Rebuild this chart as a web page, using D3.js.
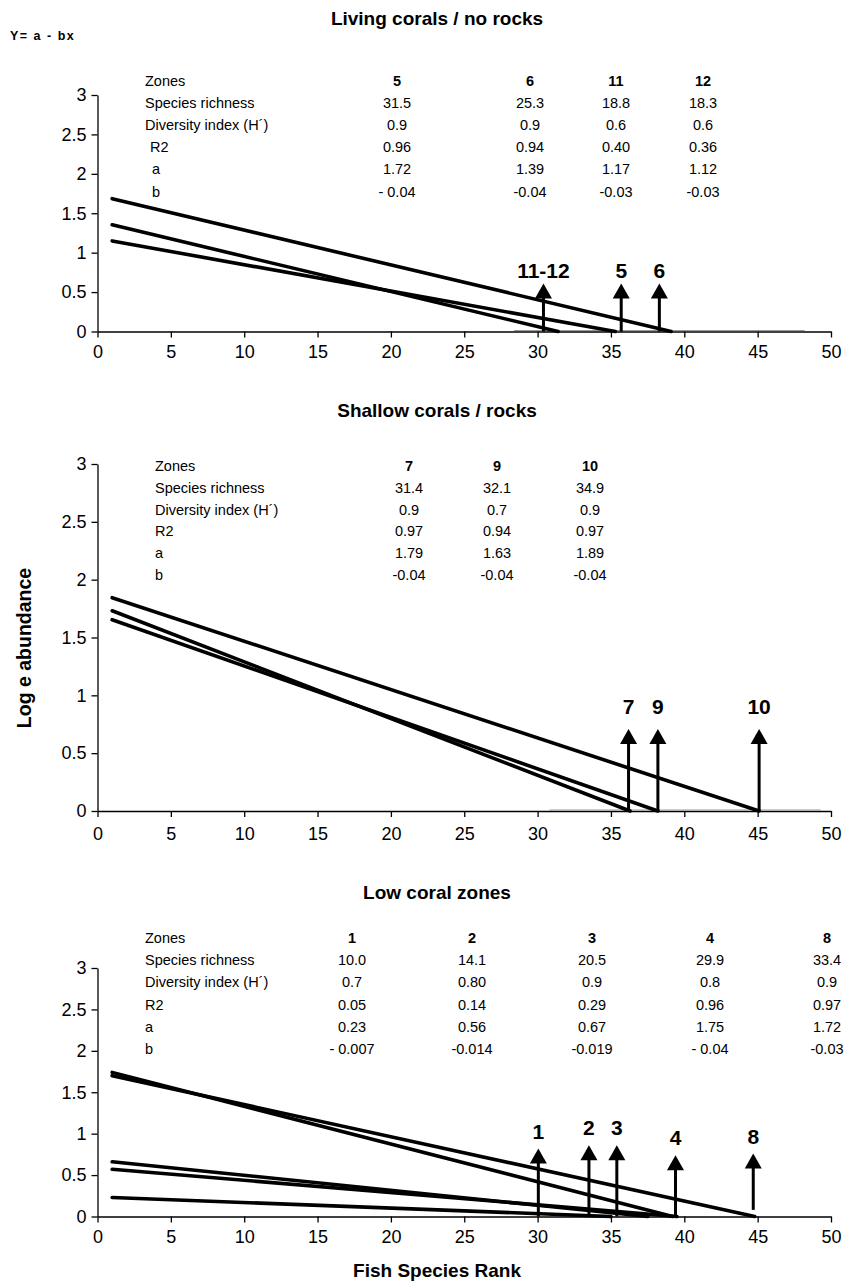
<!DOCTYPE html>
<html>
<head>
<meta charset="utf-8">
<script src="https://cdn.jsdelivr.net/npm/d3@7"></script>
<style>
  body { margin: 0; background: #fff; }
  text { font-family: "Liberation Sans", Arial, sans-serif; fill: #000; }
</style>
</head>
<body>
<script>
var width = 852;
var height = 1282;

// axis ticks
var xTickValues = [0, 5, 10, 15, 20, 25, 30, 35, 40, 45, 50];
var yTickValues = [0, 0.5, 1, 1.5, 2, 2.5, 3];

var rowLabels = ["Zones", "Species richness", "Diversity index (H\u00b4)", "R2", "a", "b"];

// panel 1 : living corals / no rocks
var p1Zones = ["5", "6", "11", "12"];
var p1Richness = ["31.5", "25.3", "18.8", "18.3"];
var p1Diversity = ["0.9", "0.9", "0.6", "0.6"];
var p1R2 = ["0.96", "0.94", "0.40", "0.36"];
var p1A = ["1.72", "1.39", "1.17", "1.12"];
var p1B = ["- 0.04", "-0.04", "-0.03", "-0.03"];
// [start rank, start value, rank where line reaches 0]
var p1Lines = [[1, 1.685, 39.1], [1, 1.353, 31.4], [1, 1.149, 35.3]];
// [label, rank, base value, tip value]
var p1Arrows = [["11-12", 30.4, 0, 0.61], ["5", 35.7, 0, 0.61], ["6", 38.3, 0, 0.61]];
var p1Zero = [[28.4, 48.2]];

// panel 2 : shallow corals / rocks
var p2Zones = ["7", "9", "10"];
var p2Richness = ["31.4", "32.1", "34.9"];
var p2Diversity = ["0.9", "0.7", "0.9"];
var p2R2 = ["0.97", "0.94", "0.97"];
var p2A = ["1.79", "1.63", "1.89"];
var p2B = ["-0.04", "-0.04", "-0.04"];
var p2Lines = [[1, 1.844, 45.1], [1, 1.731, 36.3], [1, 1.654, 38.2]];
var p2Arrows = [["7", 36.2, 0, 0.71], ["9", 38.2, 0, 0.71], ["10", 45.1, 0, 0.71]];
var p2Zero = [[30.8, 49.3]];

// panel 3 : low coral zones
var p3Zones = ["1", "2", "3", "4", "8"];
var p3Richness = ["10.0", "14.1", "20.5", "29.9", "33.4"];
var p3Diversity = ["0.7", "0.80", "0.9", "0.8", "0.9"];
var p3R2 = ["0.05", "0.14", "0.29", "0.96", "0.97"];
var p3A = ["0.23", "0.56", "0.67", "1.75", "1.72"];
var p3B = ["- 0.007", "-0.014", "-0.019", "- 0.04", "-0.03"];
var p3Lines = [[1, 1.74, 39.2], [1, 1.70, 44.8], [1, 0.66, 37.5], [1, 0.57, 39.5], [1, 0.23, 35]];
var p3Arrows = [["1", 30.05, 0, 0.82], ["2", 33.5, 0, 0.86], ["3", 35.4, 0, 0.86], ["4", 39.4, 0, 0.74], ["8", 44.7, 0.08, 0.76]];
var p3Zero = [];

var panels = [
    {title: "Living corals / no rocks", titleY: 25, y0: 331.5, y3: 95, rowY: 85.5, rowStep: 22.2,
     labelX: 145, indent: [0, 0, 0, 5, 7, 7], cols: [397, 530, 616, 703], tickPad: 8, labelGap: 5,
     table: [p1Zones, p1Richness, p1Diversity, p1R2, p1A, p1B], lines: p1Lines, arrows: p1Arrows, zero: p1Zero},
    {title: "Shallow corals / rocks", titleY: 417, y0: 811, y3: 464, rowY: 471, rowStep: 21.8,
     labelX: 155, indent: [0, 0, 0, 0, 0, 0], cols: [409, 497, 590], tickPad: 10, labelGap: 15,
     table: [p2Zones, p2Richness, p2Diversity, p2R2, p2A, p2B], lines: p2Lines, arrows: p2Arrows, zero: p2Zero},
    {title: "Low coral zones", titleY: 899, y0: 1216.5, y3: 968, rowY: 943, rowStep: 22.2,
     labelX: 145, indent: [0, 0, 0, 0, 0, 0], cols: [352, 472, 592, 710, 827], tickPad: 8, labelGap: 10,
     table: [p3Zones, p3Richness, p3Diversity, p3R2, p3A, p3B], lines: p3Lines, arrows: p3Arrows, zero: p3Zero}
];

var svg = d3.select('body')
    .append('svg')
    .attr('width', width)
    .attr('height', height);

var x = d3.scaleLinear().domain([0, 50]).range([97.5, 831]);

svg.append('text')
    .attr('x', 10).attr('y', 40)
    .style('font-size', '12.5px').style('font-weight', 'bold')
    .style('letter-spacing', '1.5px')
    .text('Y= a - bx');

panels.forEach(function(p) {
    var y = d3.scaleLinear().domain([0, 3]).range([p.y0, p.y3]);
    var g = svg.append('g');

    g.append('text')
        .attr('x', 437).attr('y', p.titleY)
        .attr('text-anchor', 'middle')
        .style('font-size', '19px').style('font-weight', 'bold')
        .text(p.title);

    // axes
    var ax = g.append('g')
        .attr('transform', 'translate(0,' + p.y0 + ')')
        .call(d3.axisBottom(x).tickValues(xTickValues).tickSize(6).tickSizeOuter(0).tickPadding(p.tickPad).tickFormat(d3.format('d')));
    var ay = g.append('g')
        .attr('transform', 'translate(' + x(0) + ',0)')
        .call(d3.axisLeft(y).tickValues(yTickValues).tickSize(6).tickSizeOuter(0).tickPadding(5).tickFormat(d => d));
    [ax, ay].forEach(function(a) {
        a.selectAll('text').style('font-size', '18px').style('font-family', '"Liberation Sans", Arial, sans-serif');
        a.selectAll('path, line').attr('stroke', '#000').attr('stroke-width', 1.3);
    });

    // grey zero segments
    g.selectAll('line.zero')
        .data(p.zero)
        .enter()
        .append('line')
        .attr('x1', d => x(d[0])).attr('x2', d => x(d[1]))
        .attr('y1', y(0) - 1).attr('y2', y(0) - 1)
        .attr('stroke', '#999').attr('stroke-width', 1.2);

    // table
    rowLabels.forEach(function(lab, i) {
        var ry = p.rowY + i * p.rowStep;
        g.append('text')
            .attr('x', p.labelX + p.indent[i]).attr('y', ry)
            .style('font-size', '14.5px')
            .text(lab);
        g.selectAll('text.r' + i)
            .data(p.table[i])
            .enter()
            .append('text')
            .attr('x', (d, j) => p.cols[j]).attr('y', ry)
            .attr('text-anchor', 'middle')
            .style('font-size', '14.5px')
            .style('font-weight', i == 0 ? 'bold' : 'normal')
            .text(d => d);
    });

    // regression lines
    g.selectAll('line.fit')
        .data(p.lines)
        .enter()
        .append('line')
        .attr('x1', d => x(d[0])).attr('y1', d => y(d[1]))
        .attr('x2', d => x(d[2])).attr('y2', y(0))
        .attr('stroke', '#000')
        .attr('stroke-width', 3.6)
        .attr('stroke-linecap', 'round');

    // arrows
    var arr = g.selectAll('g.arrow')
        .data(p.arrows)
        .enter()
        .append('g');
    arr.append('line')
        .attr('x1', d => x(d[1])).attr('x2', d => x(d[1]))
        .attr('y1', d => y(d[2])).attr('y2', d => y(d[3]) + 12)
        .attr('stroke', '#000').attr('stroke-width', 3);
    arr.append('path')
        .attr('d', d => 'M' + (x(d[1]) - 8.5) + ',' + (y(d[3]) + 15) + 'L' + x(d[1]) + ',' + y(d[3]) + 'L' + (x(d[1]) + 8.5) + ',' + (y(d[3]) + 15) + 'Z')
        .attr('fill', '#000');
    arr.append('text')
        .attr('x', d => x(d[1])).attr('y', d => y(d[3]) - p.labelGap)
        .attr('text-anchor', 'middle')
        .style('font-size', '21px').style('font-weight', 'bold')
        .text(d => d[0]);
});

svg.append('text')
    .attr('x', 437).attr('y', 1277)
    .attr('text-anchor', 'middle')
    .style('font-size', '19px').style('font-weight', 'bold')
    .text('Fish Species Rank');

svg.append('text')
    .attr('transform', 'translate(31,648) rotate(-90)')
    .attr('text-anchor', 'middle')
    .style('font-size', '19.5px').style('font-weight', 'bold')
    .text('Log e abundance');
</script>
</body>
</html>
